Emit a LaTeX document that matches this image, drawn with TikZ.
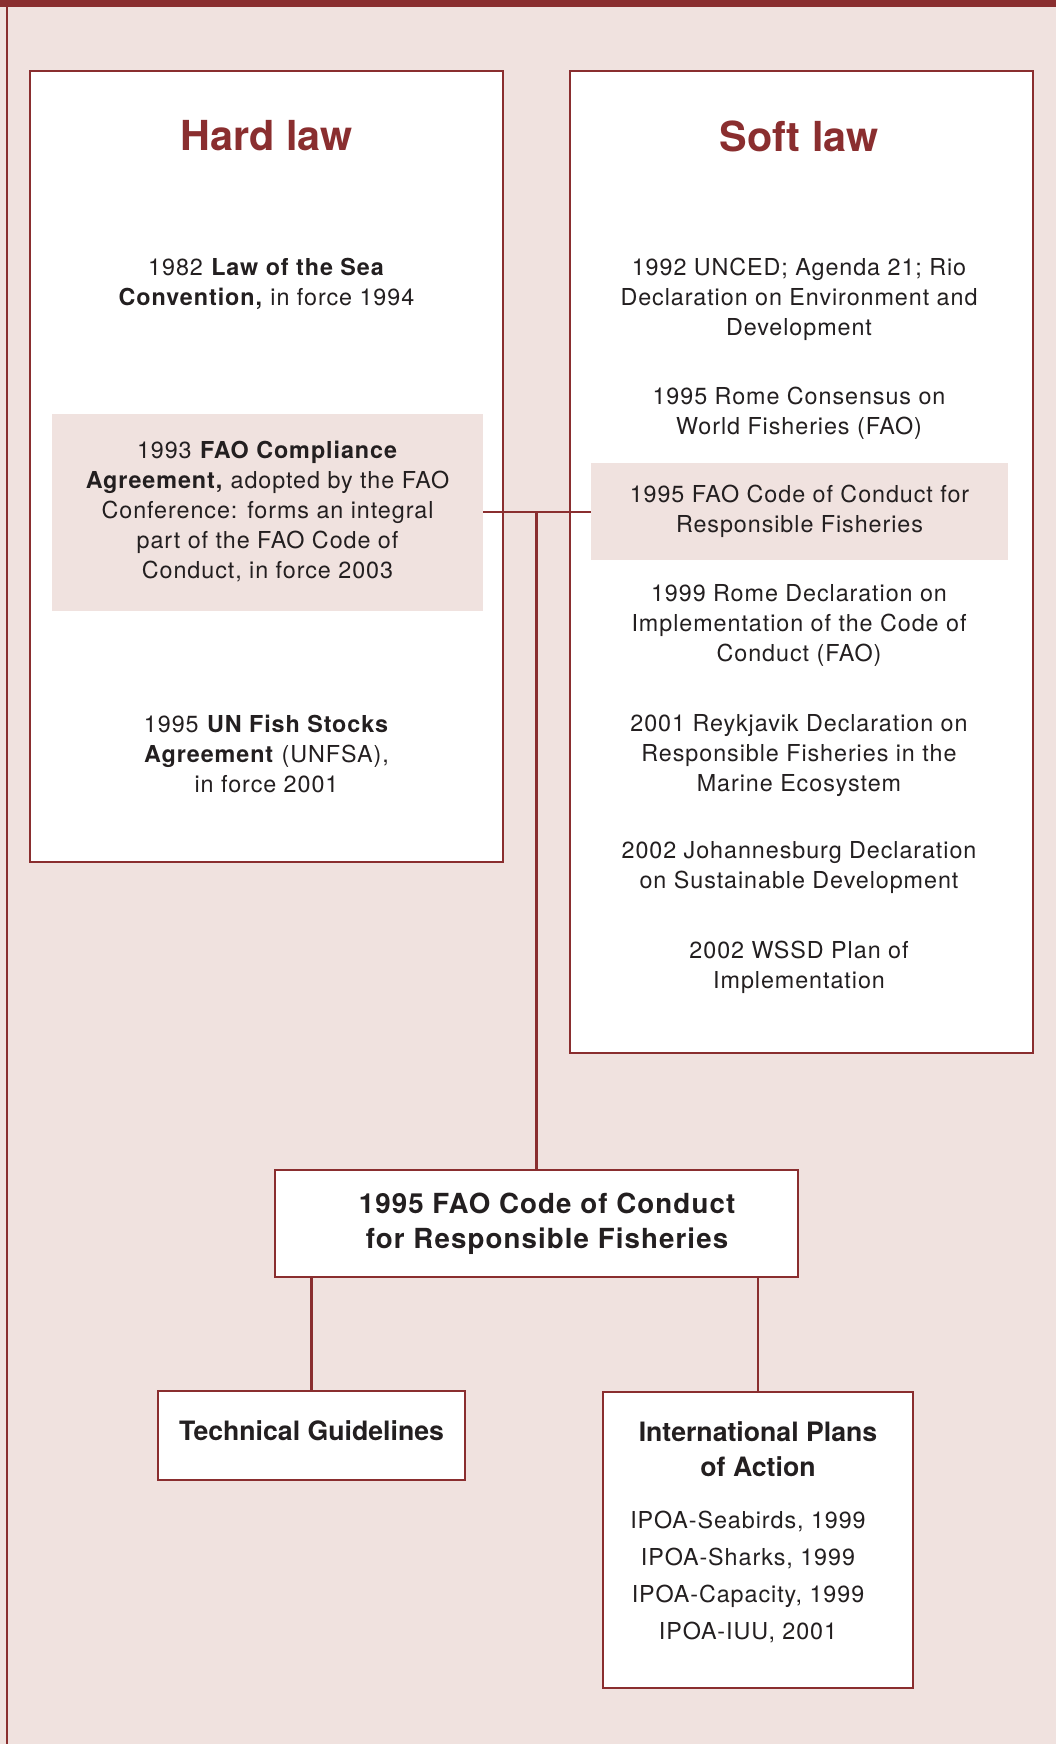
\documentclass[tikz,border=0pt]{standalone}
\usepackage{fontspec}
\setmainfont{TeX Gyre Heros}
\newfontfamily\lawfont[LetterSpace=4]{TeX Gyre Heros}
\definecolor{lawred}{HTML}{8A2E2F}
\definecolor{lawpink}{HTML}{F0E2DF}
\definecolor{lawtext}{HTML}{231F20}

\begin{document}
\begin{tikzpicture}[x=0.75pt,y=-0.75pt,
	frame/.style={draw=lawred,line width=2pt,fill=white},
	head/.style={text=lawred,font=\fontsize{31}{36}\selectfont\bfseries},
	item/.style={align=center,text=lawtext,font=\lawfont\fontsize{17.5}{22.5}\selectfont},
	shade/.style={item,fill=lawpink,inner sep=0pt},
	whitebox/.style={draw=lawred,line width=2pt,fill=white,align=center,text=lawtext,inner sep=0pt,font=\fontsize{20}{26.5}\selectfont\bfseries},
	link/.style={draw=lawred,line width=1.8pt}]

			\useasboundingbox (0,0) rectangle (1056,1744);
			\fill[lawpink] (0,0) rectangle (1056,1744);
			\fill[lawred] (0,0) rectangle (1056,7);
			\draw[lawred,line width=2pt] (7,7) -- (7,1744);

			% the two columns
			\draw[frame] (30,71) rectangle (503,862);
			\draw[frame] (570,71) rectangle (1033,1053);

			\node[head] (hardhead) at (266.5,136){Hard law};
			\node[head] (softhead) at (799,136){Soft law};

			\node[item] (losc) at (266.5,284){1982 \textbf{Law of the Sea}\\\textbf{Convention,} in force 1994};
			\node[shade,minimum width=323.25pt,minimum height=147.75pt] (compliance) at (267.5,512){1993 \textbf{FAO Compliance}\\\textbf{Agreement,} adopted by the FAO\\Conference: forms an integral\\part of the FAO Code of\\Conduct, in force 2003};
			\node[item] (unfsa) at (266.5,754){1995 \textbf{UN Fish Stocks}\\\textbf{Agreement} (UNFSA),\\in force 2001};

			\node[item] (unced) at (799,299){1992 UNCED; Agenda 21; Rio\\Declaration on Environment and\\Development};
			\node[item] (rome) at (799,413){1995 Rome Consensus on\\World Fisheries (FAO)};
			\node[shade,minimum width=312.75pt,minimum height=72.75pt] (softcode) at (799.5,511){1995 FAO Code of Conduct for\\Responsible Fisheries};
			\node[item] (romedecl) at (799,625){1999 Rome Declaration on\\Implementation of the Code of\\Conduct (FAO)};
			\node[item] (reykjavik) at (799,755.5){2001 Reykjavik Declaration on\\Responsible Fisheries in the\\Marine Ecosystem};
			\node[item] (joburg) at (799,868){2002 Johannesburg Declaration\\on Sustainable Development};
			\node[item] (wssd) at (799,967.5){2002 WSSD Plan of\\Implementation};

			% the code and what follows from it
			\node[whitebox,minimum width=392.25pt,minimum height=80.25pt] (code) at (536.5,1223.5){};
			\node[align=center,text=lawtext,font=\lawfont\fontsize{20.75}{26.5}\selectfont\bfseries] (codetext) at (547,1223.5){1995 FAO Code of Conduct\\for Responsible Fisheries};
			\node[whitebox,minimum width=230.25pt,minimum height=66.75pt,text depth=8pt] (tech) at (311.5,1435.5){Technical Guidelines};
			\node[whitebox,minimum width=232.5pt,minimum height=222pt] (ipoa) at (758,1540){};
			\node[align=center,text=lawtext,font=\fontsize{20}{26.5}\selectfont\bfseries] (ipoatitle) at (758,1449){International Plans\\of Action};
			\node[item,font=\lawfont\fontsize{17.5}{27.75}\selectfont] (ipoalist) at (748,1577){IPOA-Seabirds, 1999\\IPOA-Sharks, 1999\\IPOA-Capacity, 1999\\IPOA-IUU, 2001};

			\draw[link] (compliance.east) -- (compliance.east -| softcode.west);
			\draw[link] (compliance.east -| code.north) -- (code.north);
			\draw[link] (tech.north) -- (tech.north |- code.south);
			\draw[link] (ipoa.north) -- (ipoa.north |- code.south);
		\end{tikzpicture}
\end{document}
